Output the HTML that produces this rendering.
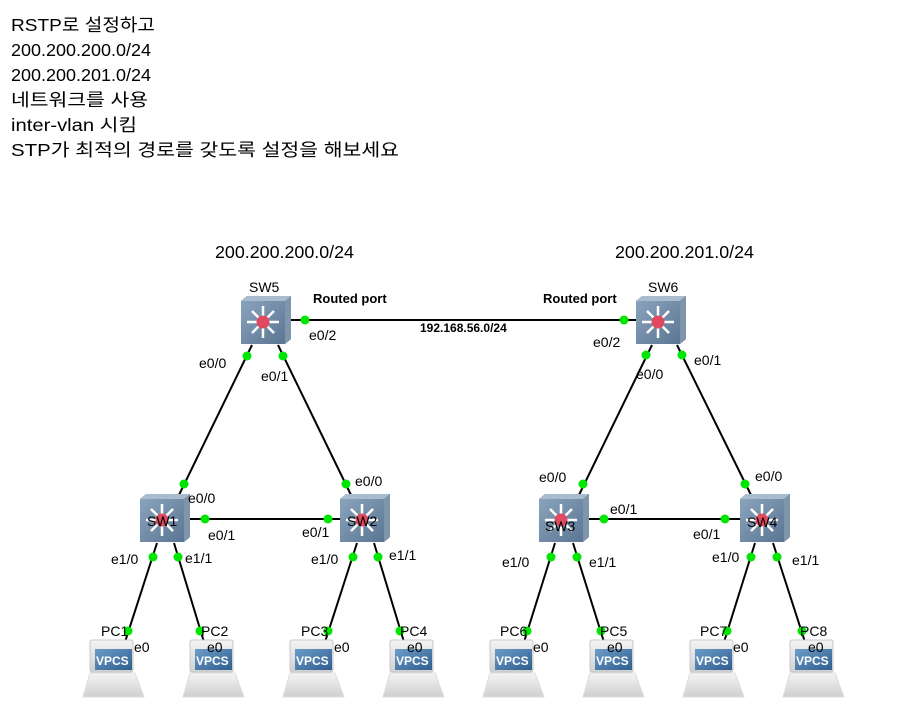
<!DOCTYPE html>
<html><head><meta charset="utf-8"><style>
body{margin:0;background:#fff;width:900px;height:706px;overflow:hidden}
svg{display:block}
.t{font-family:"Liberation Sans","Noto Sans CJK KR",sans-serif;font-size:17.5px;fill:#000}
.l{font-family:"Liberation Sans","Noto Sans CJK KR",sans-serif;font-size:14px;fill:#000}
.b{font-family:"Liberation Sans","Noto Sans CJK KR",sans-serif;font-size:13px;font-weight:bold;fill:#000}
.s{font-family:"Liberation Sans",sans-serif;font-size:12px;font-weight:bold;fill:#000}
.v{font-family:"Liberation Sans",sans-serif;font-size:12px;font-weight:bold;fill:#fff}
</style></head><body>
<svg width="900" height="706" viewBox="0 0 900 706">
<defs>
<linearGradient id="sg" x1="0" y1="0" x2="1" y2="1"><stop offset="0" stop-color="#8aa3bd"/><stop offset="1" stop-color="#5b7693"/></linearGradient>
<linearGradient id="sc" x1="0" y1="0" x2="1" y2="1"><stop offset="0" stop-color="#6e9cc9"/><stop offset="1" stop-color="#2f5f8f"/></linearGradient>
<linearGradient id="mb" x1="0" y1="0" x2="0" y2="1"><stop offset="0" stop-color="#f4f4f4"/><stop offset="1" stop-color="#cfcfcf"/></linearGradient>
<g id="sw">
<polygon points="-24,-20 -18,-25 26,-25 26,18 20,23 -24,23" fill="#4f6a86"/>
<polygon points="-18,-25 26,-25 20,-20 -24,-20" fill="#a9bccf"/>
<polygon points="20,-20 26,-25 26,18 20,23" fill="#7f95ab"/>
<rect x="-24" y="-20" width="44" height="43" fill="url(#sg)"/>
<g stroke="#fff" stroke-width="2.5" fill="none">
<line x1="-2" y1="1" x2="-2" y2="-15"/><line x1="-2" y1="1" x2="-2" y2="17"/>
<line x1="-2" y1="1" x2="-18" y2="1"/><line x1="-2" y1="1" x2="14" y2="1"/>
<line x1="-2" y1="1" x2="-13" y2="-10"/><line x1="-2" y1="1" x2="9" y2="12"/>
<line x1="-2" y1="1" x2="9" y2="-10"/><line x1="-2" y1="1" x2="-13" y2="12"/>
</g>
<circle cx="-2" cy="1" r="6.5" fill="#e04a60"/>
</g>
<g id="pc">
<polygon points="-23,33 22,33 31,57 -30,57" fill="url(#mb)" stroke="#ddd"/>
<rect x="-23" y="0" width="43" height="32" rx="2" fill="url(#mb)" stroke="#c8c8c8"/>
<rect x="-18" y="9" width="37" height="21" fill="url(#sc)"/>
</g>
</defs>

<text class="t" x="11" y="31" textLength="144" lengthAdjust="spacingAndGlyphs">RSTP로 설정하고</text>
<text class="t" x="11" y="56" textLength="140" lengthAdjust="spacingAndGlyphs">200.200.200.0/24</text>
<text class="t" x="11" y="81" textLength="140" lengthAdjust="spacingAndGlyphs">200.200.201.0/24</text>
<text class="t" x="11" y="106" textLength="137" lengthAdjust="spacingAndGlyphs">네트워크를 사용</text>
<text class="t" x="11" y="131" textLength="126" lengthAdjust="spacingAndGlyphs">inter-vlan 시킴</text>
<text class="t" x="11" y="156" textLength="388" lengthAdjust="spacingAndGlyphs">STP가 최적의 경로를 갖도록 설정을 해보세요</text>

<text class="t" x="215" y="258" textLength="139" lengthAdjust="spacingAndGlyphs">200.200.200.0/24</text>
<text class="t" x="615" y="258" textLength="139" lengthAdjust="spacingAndGlyphs">200.200.201.0/24</text>

<g stroke="#000" stroke-width="2">
<line x1="290" y1="320" x2="636" y2="320"/>
<line x1="252" y1="345" x2="178" y2="497"/>
<line x1="278" y1="345" x2="352" y2="497"/>
<line x1="652" y1="345" x2="578" y2="497"/>
<line x1="677" y1="345" x2="752" y2="497"/>
<line x1="186" y1="519" x2="340" y2="519"/>
<line x1="585" y1="519" x2="740" y2="519"/>
<line x1="157" y1="543" x2="125" y2="642"/><line x1="174" y1="543" x2="204" y2="642"/>
<line x1="357" y1="543" x2="325" y2="642"/><line x1="374" y1="543" x2="404" y2="642"/>
<line x1="555" y1="543" x2="524" y2="642"/><line x1="573" y1="543" x2="604" y2="642"/>
<line x1="755" y1="543" x2="724" y2="642"/><line x1="773" y1="543" x2="805" y2="642"/>
</g>

<use href="#sw" x="265" y="321"/>
<use href="#sw" x="660" y="321"/>
<use href="#sw" x="164" y="519"/>
<use href="#sw" x="364" y="519"/>
<use href="#sw" x="563" y="519"/>
<use href="#sw" x="764" y="519"/>

<use href="#pc" x="113" y="640"/><use href="#pc" x="213" y="640"/>
<use href="#pc" x="313" y="640"/><use href="#pc" x="413" y="640"/>
<use href="#pc" x="513" y="640"/><use href="#pc" x="613" y="640"/>
<use href="#pc" x="713" y="640"/><use href="#pc" x="813" y="640"/>
<text class="v" x="96" y="665">VPCS</text><text class="v" x="196" y="665">VPCS</text>
<text class="v" x="296" y="665">VPCS</text><text class="v" x="396" y="665">VPCS</text>
<text class="v" x="496" y="665">VPCS</text><text class="v" x="596" y="665">VPCS</text>
<text class="v" x="696" y="665">VPCS</text><text class="v" x="796" y="665">VPCS</text>

<g fill="#00e600">
<circle cx="305" cy="320" r="4.5"/><circle cx="624" cy="320" r="4.5"/>
<circle cx="247" cy="356" r="4.5"/><circle cx="283" cy="356" r="4.5"/>
<circle cx="646" cy="355" r="4.5"/><circle cx="682" cy="355" r="4.5"/>
<circle cx="184" cy="484" r="4.5"/><circle cx="205" cy="519" r="4.5"/>
<circle cx="346" cy="484" r="4.5"/><circle cx="328" cy="519" r="4.5"/>
<circle cx="583" cy="484" r="4.5"/><circle cx="604" cy="519" r="4.5"/>
<circle cx="745" cy="484" r="4.5"/><circle cx="725" cy="519" r="4.5"/>
<circle cx="153" cy="557" r="4.5"/><circle cx="178" cy="557" r="4.5"/>
<circle cx="353" cy="557" r="4.5"/><circle cx="378" cy="557" r="4.5"/>
<circle cx="551" cy="557" r="4.5"/><circle cx="577" cy="557" r="4.5"/>
<circle cx="751" cy="557" r="4.5"/><circle cx="777" cy="557" r="4.5"/>
<circle cx="128" cy="631" r="4.5"/><circle cx="200" cy="631" r="4.5"/>
<circle cx="328" cy="631" r="4.5"/><circle cx="400" cy="631" r="4.5"/>
<circle cx="527" cy="631" r="4.5"/><circle cx="601" cy="631" r="4.5"/>
<circle cx="727" cy="631" r="4.5"/><circle cx="802" cy="631" r="4.5"/>
</g>

<text class="l" x="249" y="292">SW5</text>
<text class="l" x="648" y="292">SW6</text>
<text class="b" x="313" y="303">Routed port</text>
<text class="b" x="543" y="303">Routed port</text>
<text class="s" x="420" y="332">192.168.56.0/24</text>
<text class="l" x="309" y="340">e0/2</text>
<text class="l" x="593" y="347">e0/2</text>
<text class="l" x="199" y="368">e0/0</text>
<text class="l" x="261" y="381">e0/1</text>
<text class="l" x="636" y="379">e0/0</text>
<text class="l" x="694" y="365">e0/1</text>

<text class="l" x="188" y="503">e0/0</text>
<text class="l" x="208" y="540">e0/1</text>
<text class="l" x="355" y="486">e0/0</text>
<text class="l" x="302" y="537">e0/1</text>
<text class="l" x="539" y="482">e0/0</text>
<text class="l" x="610" y="514">e0/1</text>
<text class="l" x="755" y="481">e0/0</text>
<text class="l" x="693" y="539">e0/1</text>

<text class="l" x="147" y="526">SW1</text>
<text class="l" x="347" y="526">SW2</text>
<text class="l" x="545" y="531">SW3</text>
<text class="l" x="747" y="527">SW4</text>

<text class="l" x="111" y="564">e1/0</text><text class="l" x="185" y="563">e1/1</text>
<text class="l" x="311" y="564">e1/0</text><text class="l" x="389" y="560">e1/1</text>
<text class="l" x="502" y="567">e1/0</text><text class="l" x="589" y="567">e1/1</text>
<text class="l" x="712" y="562">e1/0</text><text class="l" x="792" y="565">e1/1</text>

<text class="l" x="101" y="636">PC1</text><text class="l" x="201" y="636">PC2</text>
<text class="l" x="301" y="636">PC3</text><text class="l" x="400" y="636">PC4</text>
<text class="l" x="500" y="636">PC6</text><text class="l" x="600" y="636">PC5</text>
<text class="l" x="700" y="636">PC7</text><text class="l" x="800" y="636">PC8</text>
<text class="l" x="134" y="652">e0</text><text class="l" x="207" y="652">e0</text>
<text class="l" x="334" y="652">e0</text><text class="l" x="407" y="652">e0</text>
<text class="l" x="533" y="652">e0</text><text class="l" x="607" y="652">e0</text>
<text class="l" x="733" y="652">e0</text><text class="l" x="808" y="652">e0</text>
</svg>
</body></html>
